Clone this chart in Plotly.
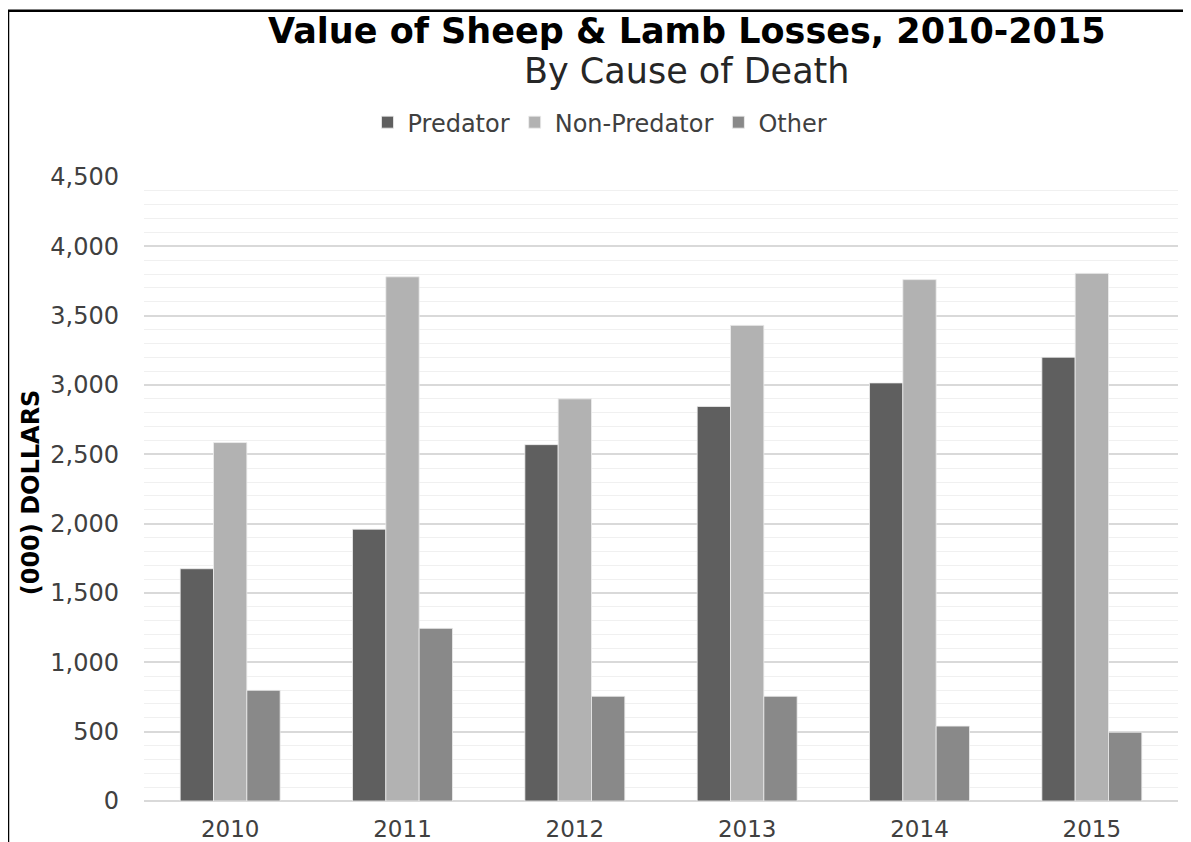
import plotly.graph_objects as go

years = ["2010", "2011", "2012", "2013", "2014", "2015"]
predator = [1675, 1960, 2570, 2845, 3015, 3200]
non_predator = [2585, 3780, 2900, 3430, 3760, 3805]
other = [798, 1245, 755, 755, 540, 496]

series_names = ["Predator", "Non-Predator", "Other"]
series_colors = ["#5f5f5f", "#b2b2b2", "#898989"]

FONT = "DejaVu Sans"

fig = go.Figure()
for name, vals, col in zip(series_names, [predator, non_predator, other], series_colors):
    fig.add_trace(go.Bar(
        x=years, y=vals, name=name,
        marker=dict(color=col, line=dict(color="#eeeeee", width=0.8)),
    ))

# page offset (body margin) and geometry in page pixels
OFF = 8
W, H = 1191 - OFF, 842 - OFF
PLOT_L, PLOT_R, PLOT_T, PLOT_B = 144, 1178, 176.5, 801
L = PLOT_L - OFF
R = W - (PLOT_R - OFF)
T = PLOT_T - OFF
B = H - (PLOT_B - OFF)
pw = PLOT_R - PLOT_L
ph = PLOT_B - PLOT_T

def px_x(x):
    return (x - PLOT_L) / pw

def px_y(y):
    return (PLOT_B - y) / ph

fig.update_layout(
    width=W, height=H,
    margin=dict(l=L, r=R, t=T, b=B, autoexpand=False),
    paper_bgcolor="white", plot_bgcolor="white",
    barmode="group", bargap=0.42, bargroupgap=0,
    font=dict(family=FONT, color="#404040"),
    showlegend=True,
    legend=dict(
        orientation="h", x=px_x(600), xanchor="center",
        y=px_y(122), yanchor="middle",
        font=dict(size=24, color="#404040", family=FONT),
        itemwidth=30, bgcolor="rgba(0,0,0,0)",
    ),
    xaxis=dict(
        type="category", showgrid=False, showline=False, ticks="",
        tickfont=dict(size=23, color="#404040", family=FONT),
        ticklabelstandoff=12, automargin=False,
    ),
    yaxis=dict(
        range=[0, 4500], dtick=500, tickformat=",",
        showgrid=True, gridcolor="#d9d9d9", gridwidth=1.5,
        zeroline=True, zerolinecolor="#d9d9d9", zerolinewidth=1.5,
        showline=False, ticks="",
        tickfont=dict(size=24, color="#404040", family=FONT),
        ticklabelstandoff=24, automargin=False,
        minor=dict(dtick=100, showgrid=True, gridcolor="#f0f0f0", gridwidth=1),
    ),
    annotations=[
        dict(text="<b>Value of Sheep & Lamb Losses, 2010-2015</b>",
             xref="paper", yref="paper", x=px_x(687), y=px_y(30),
             xanchor="center", yanchor="middle", showarrow=False,
             font=dict(size=35, color="#000000", family=FONT)),
        dict(text="By Cause of Death",
             xref="paper", yref="paper", x=px_x(687), y=px_y(70),
             xanchor="center", yanchor="middle", showarrow=False,
             font=dict(size=35, color="#262626", family=FONT)),
        dict(text="<b>(000) DOLLARS</b>",
             xref="paper", yref="paper", x=px_x(31), y=px_y(492),
             xanchor="center", yanchor="middle", showarrow=False,
             textangle=-90,
             font=dict(size=24, color="#000000", family=FONT)),
    ],
    shapes=[
        dict(type="line", xref="paper", yref="paper",
             x0=px_x(8), x1=px_x(1200), y0=px_y(10), y1=px_y(10),
             line=dict(color="#000000", width=2.5)),
        dict(type="line", xref="paper", yref="paper",
             x0=px_x(8), x1=px_x(8), y0=px_y(10), y1=px_y(850),
             line=dict(color="#000000", width=2.5)),
    ],
)

fig.write_html("out.html")
